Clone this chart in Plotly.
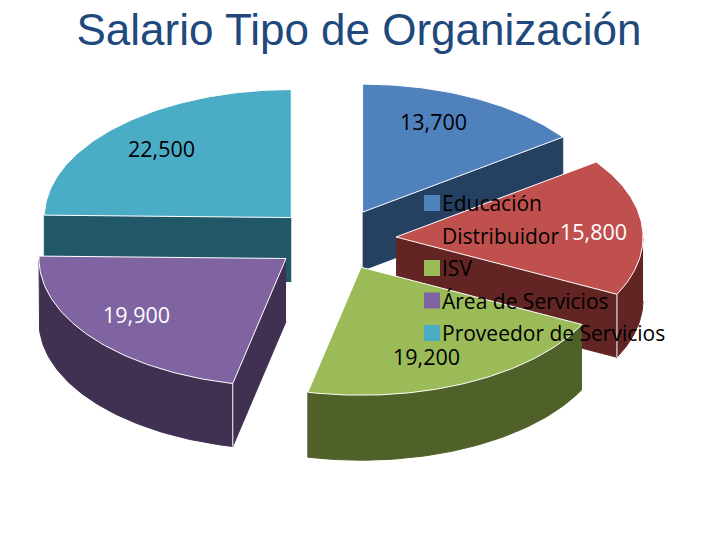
import numpy as np
import plotly.graph_objects as go

# Data
categories = ["Educación", "Distribuidor", "ISV", "Área de Servicios", "Proveedor de Servicios"]
salaries = [13700, 15800, 19200, 19900, 22500]
value_labels = ["13,700", "15,800", "19,200", "19,900", "22,500"]

# Office colours: top of the slice and its darker side
top_colors = ["#4F81BD", "#C0504D", "#9BBB59", "#8064A2", "#4BACC6"]
side_colors = ["#254061", "#632523", "#4F6128", "#403152", "#215867"]
label_colors = ["#000000", "#FFFFFF", "#000000", "#FFFFFF", "#000000"]

# Layout of the fake 3D pie, in page pixels
CX, CY = 334.5, 239.5
RX, RY = 247, 128
EXPLODE_X, EXPLODE_Y = 0.25, 0.24
depths = [58, 63, 65, 63, 64]
draw_order = [0, 4, 1, 3, 2]
label_x = [433, 593, 426, 136, 161]
label_y = [121, 231, 356, 314, 148]
LEGEND_X, LEGEND_Y, LEGEND_STEP = 432, 203, 32.5

FONT = "Open Sans"

fig = go.Figure()


def polygon(xs, ys, color, line_color=None):
    fig.add_trace(go.Scatter(
        x=xs, y=ys, mode="lines", fill="toself", fillcolor=color,
        line=dict(color=line_color or color, width=1),
        showlegend=False, hoverinfo="skip"))


total = sum(salaries)
edges = np.degrees(np.cumsum([0] + salaries) / total * 2 * np.pi)

for i in draw_order:
    start, end = edges[i], edges[i + 1]
    mid = np.radians((start + end) / 2)
    # slice apex pushed out along its middle angle
    ax = CX + EXPLODE_X * RX * np.sin(mid)
    ay = CY - EXPLODE_Y * RY * np.cos(mid)
    d = depths[i]

    theta = np.radians(np.linspace(start, end, 80))
    px = ax + RX * np.sin(theta)
    py = ay - RY * np.cos(theta)

    # radial walls, only the ones facing the viewer
    if np.sin(theta[0]) < 0:
        polygon([ax, px[0], px[0], ax], [ay, py[0], py[0] + d, ay + d], side_colors[i])
    if np.sin(theta[-1]) > 1e-6:
        polygon([ax, px[-1], px[-1], ax], [ay, py[-1], py[-1] + d, ay + d], side_colors[i])

    # rounded wall on the front half
    front = np.cos(theta) < 0
    if front.any():
        polygon(np.r_[px[front], px[front][::-1]],
                np.r_[py[front], py[front][::-1] + d], side_colors[i])

    # white edge where two walls meet
    for t, x, y, visible in [(theta[0], px[0], py[0], np.sin(theta[0]) < 0),
                             (theta[-1], px[-1], py[-1], np.sin(theta[-1]) > 1e-6)]:
        if visible and np.cos(t) < 0:
            fig.add_trace(go.Scatter(x=[x, x], y=[y, y + d], mode="lines",
                                     line=dict(color="white", width=1),
                                     showlegend=False, hoverinfo="skip"))

    polygon(np.r_[ax, px, ax], np.r_[ay, py, ay], top_colors[i], "white")

# Legend swatches, drawn over the pie like in the reference
legend_y = [LEGEND_Y + k * LEGEND_STEP for k in range(len(categories))]
fig.add_trace(go.Scatter(
    x=[LEGEND_X] * len(categories), y=legend_y, mode="markers",
    marker=dict(symbol="square", size=16, color=top_colors),
    showlegend=False, hoverinfo="skip"))

for name, y in zip(categories, legend_y):
    fig.add_annotation(x=LEGEND_X + 8, y=y, text=name, showarrow=False,
                       xanchor="left", yanchor="middle",
                       font=dict(family=FONT, size=21, color="#000000"))

for txt, x, y, c in zip(value_labels, label_x, label_y, label_colors):
    fig.add_annotation(x=x, y=y, text=txt, showarrow=False,
                       font=dict(family=FONT, size=21.5, color=c))

fig.update_layout(
    width=720, height=540,
    margin=dict(l=0, r=0, t=0, b=0),
    showlegend=False,
    title=dict(text="Salario Tipo de Organización",
               x=359 / 720, xanchor="center",
               y=1 - 30 / 540, yanchor="middle",
               font=dict(family="Liberation Sans", size=44, color="#1F497D")),
    plot_bgcolor="white", paper_bgcolor="white",
    xaxis=dict(range=[0, 720], visible=False),
    yaxis=dict(range=[540, 0], visible=False),
)

# drop the browser's default body margin so the plot fills the window
fig.write_html("out.html", config={"displayModeBar": False},
               post_script="document.body.style.margin = '0';")
